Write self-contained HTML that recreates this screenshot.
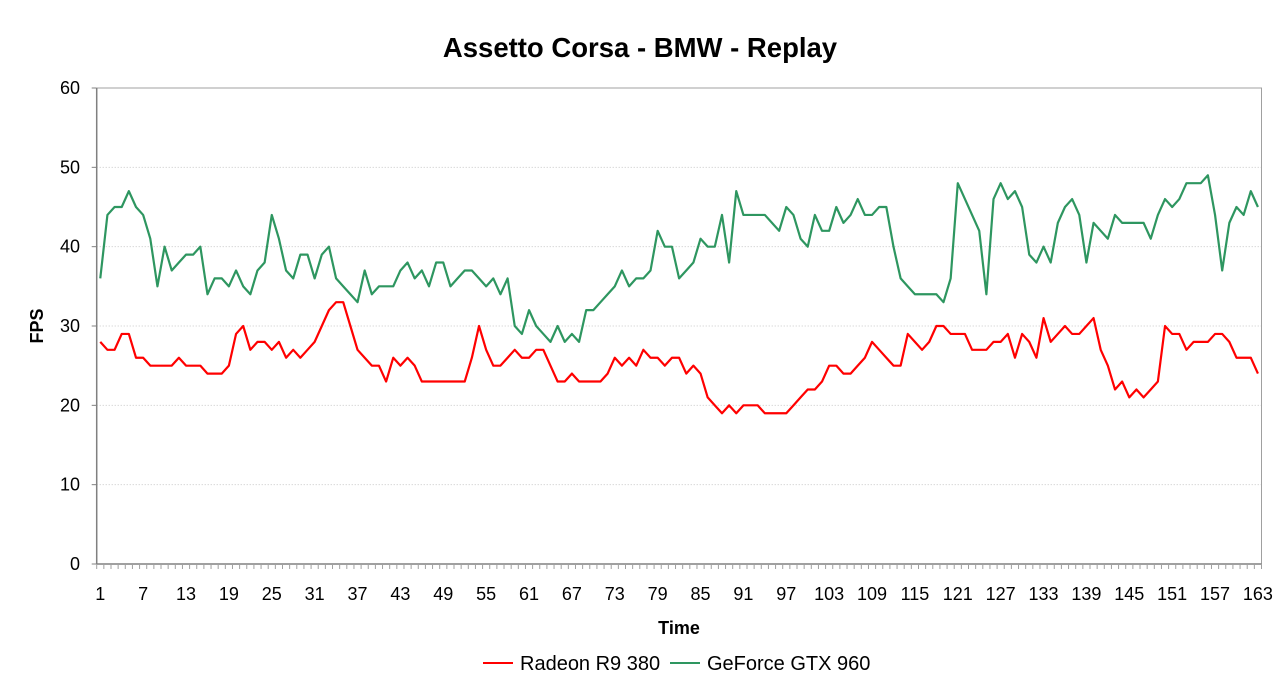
<!DOCTYPE html>
<html><head><meta charset="utf-8"><style>
body{margin:0;background:#fff;}
svg{display:block;font-family:"Liberation Sans",Arial,sans-serif;}
</style></head><body>
<svg id="chart" width="1280" height="700" xmlns="http://www.w3.org/2000/svg">
<text x="640" y="57" text-anchor="middle" font-size="27.5" font-weight="bold">Assetto Corsa - BMW - Replay</text>
<text transform="translate(43,326) rotate(-90)" text-anchor="middle" font-size="18" font-weight="bold">FPS</text>
<text x="679" y="634" text-anchor="middle" font-size="18" font-weight="bold">Time</text>
<g>
<line x1="483" y1="663" x2="513" y2="663" stroke="#ff0000" stroke-width="2"/>
<text x="520" y="670" font-size="20">Radeon R9 380</text>
<line x1="670" y1="663" x2="700" y2="663" stroke="#2e9660" stroke-width="2"/>
<text x="707" y="670" font-size="20">GeForce GTX 960</text>
</g>
<g id="grid"></g><g id="axes"></g><g id="series"></g>
</svg>
<script>
const yTicks = [0,10,20,30,40,50,60];
const radeon = [28,27,27,29,29,26,26,25,25,25,25,26,25,25,25,24,24,24,25,29,30,27,28,28,27,28,26,27,26,27,28,30,32,33,33,30,27,26,25,25,23,26,
25,26,25,23,23,23,23,23,23,23,26,30,27,25,25,26,27,26,26,27,27,25,23,23,24,23,23,23,23,24,26,25,26,25,27,26,26,25,26,26,
24,25,24,21,20,19,20,19,20,20,20,19,19,19,19,20,21,22,22,23,25,25,24,24,25,26,28,27,26,25,25,29,28,27,28,30,30,29,29,
29,27,27,27,28,28,29,26,29,28,26,31,28,29,30,29,29,30,31,27,25,22,23,21,22,21,22,23,30,29,29,27,28,28,28,29,29,28,26,26,26,24];
const geforce = [36,44,45,45,47,45,44,41,35,40,37,38,39,39,40,34,36,36,35,37,35,34,37,38,44,41,37,36,39,39,36,39,40,36,35,34,33,37,34,35,35,35,
37,38,36,37,35,38,38,35,36,37,37,36,35,36,34,36,30,29,32,30,29,28,30,28,29,28,32,32,33,34,35,37,35,36,36,37,42,40,40,36,
37,38,41,40,40,44,38,47,44,44,44,44,43,42,45,44,41,40,44,42,42,45,43,44,46,44,44,45,45,40,36,35,34,34,34,34,33,36,48,
46,44,42,34,46,48,46,47,45,39,38,40,38,43,45,46,44,38,43,42,41,44,43,43,43,43,41,44,46,45,46,48,48,48,49,44,37,43,45,44,47,45];
const categories = radeon.map((_, i) => i + 1);

const NS = "http://www.w3.org/2000/svg";
const L = 96.7, R = 1261.5, T = 88, B = 564, YMAX = 60;
const n = categories.length, step = (R - L) / n;
const xs = i => L + (i + 0.5) * step;
const ys = v => B - v / YMAX * (B - T);
function mk(tag, attrs, parent) { const e = document.createElementNS(NS, tag); for (const k in attrs) e.setAttribute(k, attrs[k]); parent.appendChild(e); return e; }
const grid = document.getElementById('grid'), axes = document.getElementById('axes'), series = document.getElementById('series');

yTicks.forEach(v => {
  if (v > 0 && v < YMAX) {
    const g = mk('line', {x1:L, x2:R, y1:ys(v), y2:ys(v), stroke:'#c8c8c8', 'stroke-width':1, 'stroke-dasharray':'1,2'}, grid);
    
    
  }
  const t = mk('line', {x1:L-5, x2:L, y1:ys(v), y2:ys(v), stroke:'#808080'}, axes);
  
  
  const lb = mk('text', {x:80, y:ys(v)+6, 'text-anchor':'end', 'font-size':18}, axes);
  lb.textContent = v;
  
  
});
const frame = mk('rect', {x:L, y:T, width:R-L, height:B-T, fill:'none', stroke:'#a0a0a0', 'stroke-width':1}, axes);


const yaxis = mk('line', {x1:L, x2:L, y1:T, y2:B, stroke:'#808080', 'stroke-width':1.5}, axes);


const xaxis = mk('line', {x1:L, x2:R, y1:B, y2:B, stroke:'#808080', 'stroke-width':1.5}, axes);


for (let i = 0; i <= n; i++) {
  const tk = mk('line', {x1:L+i*step, x2:L+i*step, y1:B, y2:B+5, stroke:'#a0a0a0'}, axes);
  
  
}
categories.forEach((c, i) => {
  if (i % 6 === 0) {
    const lb = mk('text', {x:xs(i), y:600, 'text-anchor':'middle', 'font-size':18}, axes);
    lb.textContent = c;
    
    
  }
});
function line(data, color, name) {
  const pts = data.map((v, i) => xs(i).toFixed(2) + ',' + ys(v).toFixed(2)).join(' ');
  const p = mk('polyline', {points:pts, fill:'none', stroke:color, 'stroke-width':2.2, 'stroke-linejoin':'round'}, series);
  
  
}
line(geforce, '#2e9660', 'series-geforce-gtx-960');
line(radeon, '#ff0000', 'series-radeon-r9-380');
</script>
</body></html>
